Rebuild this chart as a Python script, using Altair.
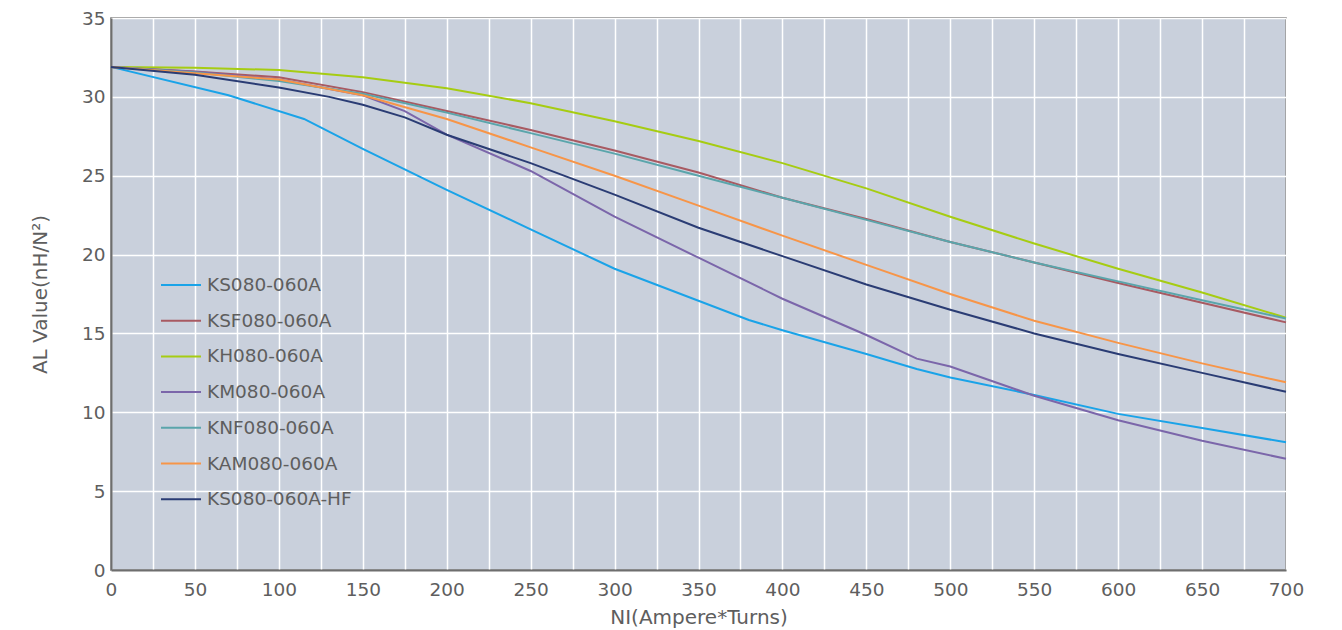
import altair as alt
import pandas as pd

series_names = ["KS080-060A", "KSF080-060A", "KH080-060A", "KM080-060A",
                "KNF080-060A", "KAM080-060A", "KS080-060A-HF"]
series_colors = ["#1aa3e8", "#a85a62", "#a6cc12", "#7b66aa", "#5aa5ab", "#f79548", "#2a3c74"]

common_x = [0, 50, 100, 150, 200, 250, 300, 350, 400, 450, 500, 550, 600, 650, 700]

ks_x = [0, 70, 115, 150, 200, 250, 300, 380, 400, 450, 480, 500, 550, 600, 650, 700]
ks_y = [31.9, 30.1, 28.6, 26.7, 24.1, 21.6, 19.1, 15.85, 15.2, 13.7, 12.75, 12.2, 11.1, 9.9, 9.0, 8.1]

ksf_y = [31.9, 31.6, 31.25, 30.3, 29.1, 27.9, 26.6, 25.2, 23.6, 22.25, 20.8, 19.5, 18.2, 16.95, 15.7]
kh_y = [31.9, 31.85, 31.7, 31.25, 30.55, 29.6, 28.45, 27.2, 25.8, 24.2, 22.4, 20.7, 19.1, 17.6, 16.0]

km_x = [0, 50, 100, 150, 175, 200, 250, 300, 350, 400, 450, 480, 500, 550, 600, 650, 700]
km_y = [31.9, 31.6, 31.1, 30.1, 29.1, 27.6, 25.3, 22.4, 19.8, 17.2, 14.9, 13.4, 12.9, 11.05, 9.5, 8.2, 7.05]

knf_y = [31.9, 31.55, 31.0, 30.2, 29.0, 27.7, 26.4, 25.0, 23.6, 22.2, 20.8, 19.5, 18.3, 17.1, 15.95]
kam_y = [31.9, 31.5, 31.1, 30.1, 28.6, 26.8, 25.0, 23.1, 21.2, 19.35, 17.5, 15.8, 14.4, 13.1, 11.9]

hf_x = [0, 50, 100, 130, 150, 175, 200, 250, 300, 350, 400, 450, 500, 550, 600, 650, 700]
hf_y = [31.9, 31.4, 30.6, 30.0, 29.5, 28.7, 27.6, 25.8, 23.8, 21.7, 19.9, 18.1, 16.5, 15.0, 13.7, 12.5, 11.3]

rows = []
for name, xs, ys in [
    (series_names[0], ks_x, ks_y),
    (series_names[1], common_x, ksf_y),
    (series_names[2], common_x, kh_y),
    (series_names[3], km_x, km_y),
    (series_names[4], common_x, knf_y),
    (series_names[5], common_x, kam_y),
    (series_names[6], hf_x, hf_y),
]:
    for i, (xv, yv) in enumerate(zip(xs, ys)):
        rows.append({"series": name, "NI": xv, "AL": yv, "order": i})
df = pd.DataFrame(rows)

x_ticks = list(range(0, 701, 25))
y_ticks = list(range(0, 36, 5))

font = "DejaVu Sans"
text_gray = "#5e5e5e"

chart = alt.Chart(df).mark_line(strokeWidth=2).encode(
    x=alt.X("NI:Q",
            scale=alt.Scale(domain=[0, 700], nice=False, zero=False),
            axis=alt.Axis(title="NI(Ampere*Turns)", values=x_ticks,
                          labelExpr="datum.value % 50 == 0 ? datum.label : ''",
                          grid=True, gridColor="#ffffff", gridWidth=1.5, gridOpacity=1,
                          ticks=False, labelPadding=10, labelFontSize=18.5,
                          labelColor=text_gray, labelFont=font,
                          titleFont=font, titleFontSize=20, titleFontWeight="normal",
                          titleColor=text_gray, titlePadding=9,
                          domainColor="#6e6e6e", domainWidth=2, labelFlush=False)),
    y=alt.Y("AL:Q",
            scale=alt.Scale(domain=[0, 35], nice=False),
            axis=alt.Axis(title="AL Value(nH/N²)", values=y_ticks,
                          grid=True, gridColor="#ffffff", gridWidth=1.5, gridOpacity=1,
                          ticks=False, labelPadding=6, labelFontSize=18.5,
                          labelColor=text_gray, labelFont=font,
                          titleFont=font, titleFontSize=20, titleFontWeight="normal",
                          titleColor=text_gray, titlePadding=31,
                          domainColor="#6e6e6e", domainWidth=2)),
    color=alt.Color("series:N",
                    scale=alt.Scale(domain=series_names, range=series_colors),
                    sort=series_names,
                    legend=alt.Legend(title=None, orient="none", legendX=49, legendY=246,
                                      symbolType="stroke", symbolSize=1600,
                                      symbolStrokeWidth=2, labelFontSize=18.5,
                                      labelFont=font, labelColor=text_gray,
                                      rowPadding=4.7, labelOffset=5,
                                      symbolOffset=0, padding=0)),
    order="order:Q",
).properties(
    width=1175, height=552,
    autosize=alt.AutoSizeParams(type="none"),
    padding={"left": 103, "top": 10, "right": 40, "bottom": 60},
).configure_view(
    fill="#c9d0dc", stroke="#6e6e6e", strokeWidth=1.5
)

chart.save("out.html", embed_options={"renderer": "svg", "actions": False})
